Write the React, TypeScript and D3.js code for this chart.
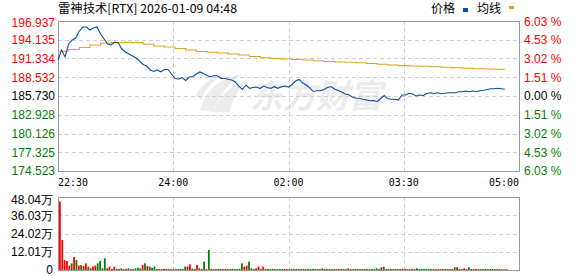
import React from "react";
import * as d3 from "d3";

// ---- data ----
const title = "雷神技术[RTX] 2026-01-09 04:48";
const timeLabels = ["22:30", "24:00", "02:00", "03:30", "05:00"];
const priceTicks = [196.937, 194.135, 191.334, 188.532, 185.73, 182.928, 180.126, 177.325, 174.523];
const pctTicks = ["6.03 %", "4.53 %", "3.02 %", "1.51 %", "0.00 %", "1.51 %", "3.02 %", "4.53 %", "6.03 %"];
const volTicks = [48.04, 36.03, 24.02, 12.01, 0];
const volTickLabels = ["48.04万", "36.03万", "24.02万", "12.01万", "0"];
const prevClose = 185.73;

// price every 3 minutes from 22:30
const price = [
  191.11, 192.6, 191.56, 193.5, 194.1, 194.4, 195.44, 196.04, 196.04, 195.59,
  195.89, 196.04, 194.99, 194.25, 193.5, 193.35, 193.8, 193.65, 192.75, 192.31,
  192.01, 191.71, 191.41, 190.96, 190.44, 190.21, 189.62, 189.39, 189.62, 189.32,
  189.69, 189.69, 189.02, 188.35, 188.27, 188.49, 188.05, 188.57, 188.64, 189.02,
  189.32, 189.09, 188.79, 188.57, 188.79, 188.72, 188.37, 188.35, 188.22, 188.12,
  187.82, 187.22, 186.7, 187.37, 186.88, 187.0, 187.07, 186.85, 187.22, 187.0,
  186.88, 187.12, 186.88, 187.12, 187.22, 187.07, 187.45, 187.97, 188.2, 187.67,
  187.37, 186.93, 186.4, 186.52, 186.52, 186.7, 187.0, 187.15, 186.78, 186.55,
  186.33, 186.03, 185.92, 185.58, 185.39, 185.39, 185.24, 185.13, 185.03, 185.06,
  184.88, 185.36, 185.8, 185.31, 185.24, 185.24, 185.13, 185.88, 185.88, 186.13,
  186.03, 185.73, 185.88, 185.8, 186.1, 186.22, 186.1, 186.22, 186.07, 186.1,
  186.22, 186.22, 186.22, 186.37, 186.37, 186.48, 186.37, 186.48, 186.37, 186.52,
  186.58, 186.7, 186.82, 186.82, 186.88, 186.82, 186.73,
];

// average line every 9 minutes
const avgLine = [
  192.41, 192.68, 192.98, 193.35, 193.61, 193.72, 193.75, 193.71, 193.46, 193.2,
  193.05, 192.83, 192.6, 192.38, 192.26, 192.16, 192.01, 191.86, 191.63, 191.45,
  191.33, 191.26, 191.18, 191.11, 191.0, 190.89, 190.81, 190.77, 190.69, 190.59,
  190.47, 190.36, 190.27, 190.21, 190.17, 190.11, 190.02, 189.96, 189.87, 189.81,
  189.76, 189.72, 189.72,
];

// volume (万) every 2 minutes
const volume = [
  45.0, 19.7, 6.6, 5.9, 2.9, 4.4, 8.6, 6.6, 2.9, 3.3,
  2.6, 4.4, 2.2, 1.1, 2.2, 2.9, 4.4, 5.9, 1.1, 7.7,
  1.1, 2.2, 0.7, 2.2, 0.8, 0.7, 1.1, 0.6, 0.7, 1.1,
  0.6, 0.7, 1.1, 1.5, 1.1, 3.3, 4.4, 2.6, 2.2, 1.5,
  2.2, 0.7, 0.6, 0.6, 0.7, 0.7, 0.6, 0.6, 0.5, 0.6,
  0.6, 0.7, 0.6, 2.2, 2.2, 3.7, 0.8, 0.6, 3.3, 1.1,
  0.7, 5.5, 0.6, 13.2, 0.7, 0.6, 0.6, 0.7, 0.6, 0.6,
  0.7, 0.6, 0.6, 0.7, 0.6, 0.6, 0.7, 4.4, 2.2, 2.9,
  5.5, 1.1, 0.6, 1.1, 2.2, 0.7, 2.2, 0.7, 0.6, 0.6,
  0.7, 0.6, 0.6, 0.6, 0.6, 0.7, 0.6, 0.6, 0.6, 0.6,
  0.7, 0.6, 0.6, 0.6, 0.6, 0.6, 0.6, 0.7, 0.6, 0.6,
  0.6, 1.1, 0.6, 0.6, 0.6, 0.6, 0.6, 0.6, 0.6, 0.7,
  0.6, 0.6, 1.1, 0.6, 0.6, 0.6, 0.6, 0.6, 0.6, 0.6,
  0.7, 0.6, 0.6, 0.6, 1.1, 0.6, 1.8, 2.2, 0.6, 0.6,
  0.6, 0.6, 0.6, 0.6, 0.6, 0.7, 0.6, 0.6, 0.6, 0.6,
  0.6, 1.1, 0.6, 0.6, 0.6, 0.6, 0.6, 0.6, 0.6, 0.6,
  0.6, 0.6, 0.6, 0.6, 0.6, 0.6, 0.6, 1.8, 1.8, 0.6,
  0.6, 1.1, 0.6, 1.8, 0.6, 0.6, 0.6, 0.6, 0.6, 0.6,
  0.6, 0.6, 0.6, 0.6, 0.6, 0.6, 0.6, 0.5, 0.5, 0.5,
];
// r = up (red), g = down (green), one per volume bar
const volDir = [
  "rrrrrgrgrg", "rrgrrrgggg", "rrgrrggrrg", "rggggrgrgg", "ggrrggrrrg",
  "ggggrrrrrr", "gggggrrrgg", "grrgggggrr", "gggrrrrrgg", "grrggrrggr",
  "rrggrrggrr", "rggrrggrrg", "grgrrggrrg", "grrggrrggr", "rggrrrggrr",
  "ggrrggrrgg", "rrggrrggrr", "grrggrrgrr", "grrrgrrggr",
].join("");

const W = 578, H = 276;
const L = 58, R = 519, T = 21, B = 171, VT = 197, VB = 270;
const FONT = "'Liberation Sans', Arial, sans-serif";
const CJK = "'Noto Sans CJK SC', sans-serif";
const RED = "#ff0000", GREEN = "#008000";
const GRID = "#cfcfcf";

export default function App() {
  const x = d3.scaleLinear().domain([0, 390]).range([L, R]);
  const y = d3.scaleLinear().domain([174.523, 196.937]).range([B, T]);
  const vy = d3.scaleLinear().domain([0, 48.04]).range([VB, VT]);
  const lx = d3.scaleLinear().domain([0, timeLabels.length - 1]).range([L, R]);

  const priceLine = d3.line<number>().x((_, i) => x(i * 3)).y((d) => y(d))(price) || "";
  const avgPath = d3.line<number>().x((_, i) => x(i * 9)).y((d) => y(d)).curve(d3.curveStepAfter)(avgLine) || "";
  const step = x(2) - x(0);
  const vGrid = [1, 2, 3].map((i) => lx(i));
  const colorFor = (p: number) => (p > prevClose + 0.001 ? RED : p < prevClose - 0.001 ? GREEN : "#000");

  return (
    <svg width={W} height={H} style={{ position: "absolute", left: 0, top: 0, background: "#fff" }}>
      <rect x={0} y={0} width={W} height={H} fill="#fff" />
      {/* watermark */}
      <g>
        <path d="M200,110 C205,90 220,78 242,74 C228,84 218,96 214,112 Z" fill="#ececec" />
        <path d="M214,112 C220,94 232,84 248,80 C238,90 232,100 230,112 Z" fill="#ececec" />
        <path d="M196,96 C200,86 210,78 224,74 C212,82 204,90 202,100 Z" fill="#ececec" />
        <text x={250} y={108} fontFamily={CJK} fontWeight={700} fontSize={33} fontStyle="italic" fill="#ebebeb" textLength={132} lengthAdjust="spacingAndGlyphs">东方财富</text>
      </g>

      {/* title */}
      <text x={L} y={13} fontFamily={CJK} fontSize={12} fill="#000" textLength={179} lengthAdjust="spacingAndGlyphs">{title}</text>
      {/* legend */}
      <text x={431} y={13} fontFamily={CJK} fontSize={12} fill="#000">价格</text>
      <rect x={463} y={8} width={5} height={4} fill="#0b4ea2" />
      <text x={477} y={13} fontFamily={CJK} fontSize={12} fill="#000">均线</text>
      <rect x={509} y={6} width={5} height={3} fill="#daa520" />

      {/* main grid */}
      {priceTicks.slice(1, -1).map((t, i) => (
        <line key={"hg" + i} x1={L} x2={R} y1={Math.round(y(t)) + 0.5} y2={Math.round(y(t)) + 0.5} stroke={GRID} strokeDasharray="4,3" />
      ))}
      {vGrid.map((gx, i) => (
        <line key={"vg" + i} x1={Math.round(gx) + 0.5} x2={Math.round(gx) + 0.5} y1={T} y2={B} stroke={GRID} strokeDasharray="4,3" />
      ))}
      <rect x={L + 0.5} y={T + 0.5} width={R - L} height={B - T} fill="none" stroke="#999" />

      {/* lines */}
      <path d={avgPath} fill="none" stroke="#daa520" strokeWidth={1.1} />
      <path d={priceLine} fill="none" stroke="#0b4ea2" strokeWidth={1.1} />

      {/* left price labels */}
      {priceTicks.map((t, i) => (
        <text key={"pl" + i} x={55} y={Math.min(Math.max(y(t), T + 2), B + 1)} dy="0.36em" textAnchor="end" fontFamily={FONT} fontSize={12}
          fill={colorFor(t)}>{t.toFixed(3)}</text>
      ))}
      {/* right pct labels */}
      {pctTicks.map((t, i) => (
        <text key={"pr" + i} x={524} y={Math.min(Math.max(y(priceTicks[i]), T + 1), B + 2)} dy="0.36em" fontFamily={FONT} fontSize={12}
          fill={colorFor(priceTicks[i])}>{t}</text>
      ))}

      {/* time labels */}
      {timeLabels.map((t, i) => (
        <text key={"tl" + i} x={lx(i)} y={186}
          textAnchor={i === 0 ? "start" : i === timeLabels.length - 1 ? "end" : "middle"}
          fontFamily="'DejaVu Sans Mono', monospace" fontSize={11} fill="#000" textLength={30} lengthAdjust="spacingAndGlyphs">{t}</text>
      ))}

      {/* volume grid */}
      {volTicks.slice(1, -1).map((t, i) => (
        <line key={"vh" + i} x1={L} x2={R} y1={Math.round(vy(t)) + 0.5} y2={Math.round(vy(t)) + 0.5} stroke={GRID} strokeDasharray="4,3" />
      ))}
      {vGrid.map((gx, i) => (
        <line key={"vv" + i} x1={Math.round(gx) + 0.5} x2={Math.round(gx) + 0.5} y1={VT} y2={VB} stroke={GRID} strokeDasharray="4,3" />
      ))}

      {/* volume bars */}
      {volume.map((v, i) => (
        <rect key={"vb" + i} x={x(i * 2) + 1} y={vy(v)} width={step * 0.75} height={VB - vy(v)}
          fill={volDir[i] === "g" ? GREEN : RED} />
      ))}
      <rect x={L + 0.5} y={VT + 0.5} width={R - L} height={VB - VT} fill="none" stroke="#999" />

      {/* volume labels */}
      {volTicks.map((t, i) => (
        <text key={"vl" + i} x={53} y={Math.min(Math.max(vy(t), VT + 3), VB)} dy="0.36em" textAnchor="end" fontFamily={FONT} fontSize={12} fill="#000">{volTickLabels[i]}</text>
      ))}
    </svg>
  );
}
